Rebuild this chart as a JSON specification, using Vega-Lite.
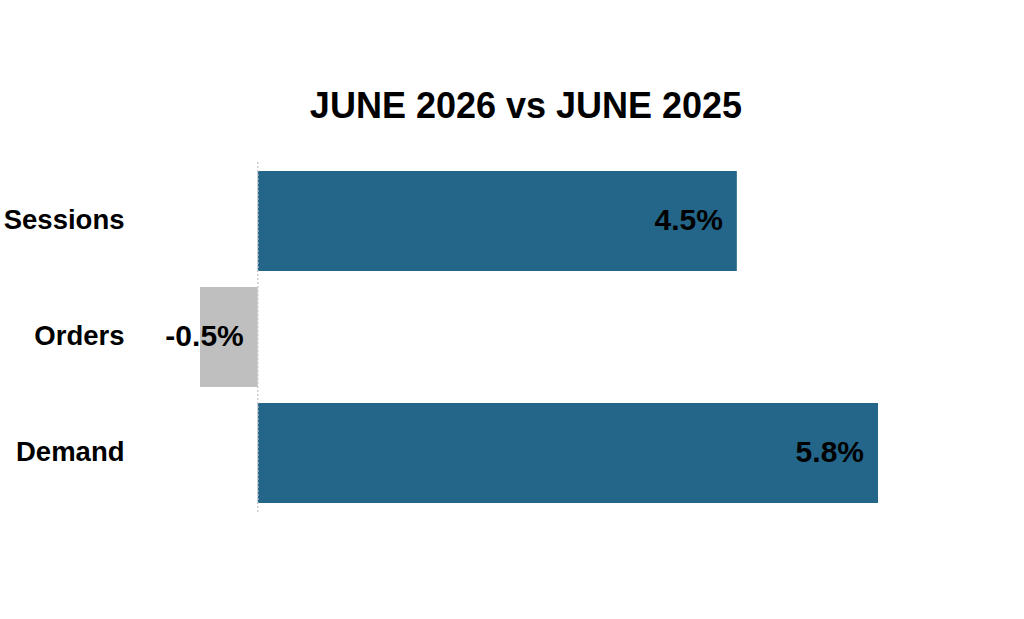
{
  "$schema": "https://vega.github.io/schema/vega-lite/v6.json",
  "width": 678,
  "height": 348,
  "autosize": {"type": "none"},
  "padding": {"left": 200, "top": 163, "right": 146, "bottom": 108},
  "background": "white",
  "config": {"view": {"stroke": null}, "font": "Liberation Sans"},
  "title": {
    "text": "JUNE 2026 vs JUNE 2025",
    "fontSize": 36,
    "fontWeight": "bold",
    "font": "Liberation Sans",
    "color": "#000000",
    "anchor": "middle",
    "dx": -13,
    "offset": 36
  },
  "data": {
    "values": [
      {"metric": "Sessions", "value": 4.48, "label": "4.5%"},
      {"metric": "Orders", "value": -0.54, "label": "-0.5%"},
      {"metric": "Demand", "value": 5.8, "label": "5.8%"}
    ]
  },
  "encoding": {
    "y": {
      "field": "metric",
      "type": "nominal",
      "sort": ["Sessions", "Orders", "Demand"],
      "scale": {"paddingInner": 0.14, "paddingOuter": 0.07},
      "axis": {
        "title": null,
        "domain": false,
        "ticks": false,
        "labelPadding": 76,
        "labelFontSize": 27.5,
        "labelFontWeight": "bold",
        "labelColor": "#000000",
        "labelFont": "Liberation Sans"
      }
    }
  },
  "layer": [
    {
      "mark": {"type": "bar"},
      "encoding": {
        "x": {
          "field": "value",
          "type": "quantitative",
          "scale": {"domain": [-0.54, 5.8], "nice": false, "zero": false},
          "axis": null
        },
        "color": {
          "condition": {"test": "datum.value < 0", "value": "#bfbfbf"},
          "value": "#236689"
        }
      }
    },
    {
      "mark": {"type": "rule", "color": "#cccccc", "strokeDash": [2, 2], "strokeWidth": 1},
      "encoding": {"x": {"datum": 0, "type": "quantitative"}, "y": {"value": -1}, "y2": {"value": 349}}
    },
    {
      "transform": [{"filter": "datum.value > 0"}],
      "mark": {"type": "text", "align": "right", "dx": -14, "fontSize": 30, "fontWeight": "bold", "font": "Liberation Sans", "color": "#000000", "baseline": "middle"},
      "encoding": {
        "x": {"field": "value", "type": "quantitative"},
        "text": {"field": "label"}
      }
    },
    {
      "transform": [{"filter": "datum.value <= 0"}],
      "mark": {"type": "text", "align": "right", "dx": -14, "fontSize": 30, "fontWeight": "bold", "font": "Liberation Sans", "color": "#000000", "baseline": "middle"},
      "encoding": {
        "x": {"datum": 0, "type": "quantitative"},
        "text": {"field": "label"}
      }
    }
  ]
}
